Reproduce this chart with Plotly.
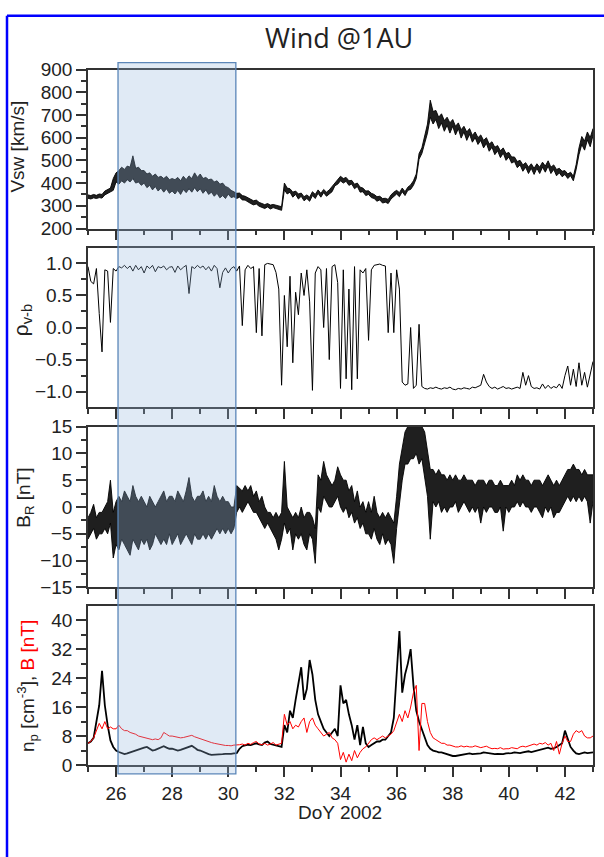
import numpy as np
import plotly.graph_objects as go

# ---------------- data (0.1-day sampling) ----------------
doy = np.round(np.arange(25.0, 43.0001, 0.1), 1)

# solar wind speed: lower / upper edge of the noisy trace [km/s]
vsw_hi = [
    348, 345, 350, 346, 352, 350, 365, 372, 378, 420,
    445, 455, 470, 460, 475, 470, 520, 465, 470, 455,
    455, 440, 445, 430, 440, 425, 430, 420, 430, 415,
    420, 415, 425, 410, 430, 415, 432, 420, 445, 425,
    440, 420, 425, 415, 418, 405, 410, 395, 400, 385,
    380, 368, 362, 355, 356, 345, 342, 335, 328, 322,
    325, 315, 310, 305, 310, 303, 306, 302, 298, 296,
    400, 378, 375, 360, 365, 352, 356, 340, 348, 338,
    362, 350, 370, 355, 372, 360, 370, 385, 405, 415,
    430, 420, 425, 410, 412, 395, 400, 382, 378, 365,
    366, 355, 350, 340, 342, 332, 333, 328, 348, 360,
    368, 358, 378, 362, 382, 392, 410, 440, 530, 555,
    605, 660, 765, 715, 720, 690, 705, 675, 690, 665,
    680, 650, 665, 635, 650, 625, 640, 610, 625, 600,
    612, 588, 600, 572, 582, 558, 565, 542, 555, 530,
    535, 515, 515, 495, 500, 480, 490, 470, 485, 465,
    485, 470, 492, 475, 498, 470, 480, 460, 465, 452,
    455, 440, 448, 430, 482, 555, 605, 585, 625, 600,
    640,
]
vsw_lo = [
    333, 330, 335, 332, 336, 334, 348, 355, 360, 368,
    405, 395, 410, 400, 415, 405, 420, 400, 405, 390,
    400, 380, 390, 370, 385, 365, 378, 360, 375, 355,
    365, 352, 368, 350, 372, 358, 375, 360, 380, 362,
    375, 355, 370, 350, 360, 342, 355, 335, 345, 332,
    352, 336, 340, 332, 338, 326, 325, 316, 310, 304,
    308, 298, 294, 288, 295, 286, 292, 288, 283, 280,
    370, 352, 360, 338, 350, 330, 342, 322, 332, 320,
    345, 332, 355, 338, 358, 342, 352, 362, 388, 395,
    410, 400, 408, 390, 396, 375, 385, 360, 362, 345,
    350, 336, 332, 320, 326, 312, 316, 310, 330, 342,
    352, 340, 362, 345, 368, 372, 390, 420, 505, 530,
    575, 620, 690, 660, 680, 640, 665, 628, 655, 620,
    650, 612, 640, 598, 625, 588, 615, 580, 600, 570,
    588, 555, 575, 540, 558, 525, 542, 512, 532, 500,
    515, 488, 495, 468, 480, 452, 470, 442, 465, 438,
    465, 442, 470, 448, 475, 442, 460, 432, 445, 428,
    438, 420, 432, 410, 460, 525, 570, 545, 590, 560,
    610,
]

rho = [
    0.95, 0.72, 0.68, 0.92, 0.22, -0.38, 0.90, 0.88, 0.08, 0.92,
    0.88, 0.95, 0.93, 0.97, 0.92, 0.96, 0.88, 0.97, 0.90, 0.95,
    0.85, 0.96, 0.92, 0.97, 0.87, 0.95, 0.93, 0.96, 0.90, 0.94,
    0.95, 0.86, 0.96, 0.90, 0.94, 0.97, 0.53, 0.95, 0.92, 0.97,
    0.93, 0.96, 0.90, 0.95, 0.88, 0.97, 0.92, 0.62, 0.86, 0.93,
    0.85, 0.92, 0.95, 0.88, 0.96, 0.03, 0.90, 0.97, 0.92, 0.95,
    -0.08, 0.92, -0.13, 0.98, 1.00, 0.99, 0.98, 0.86, 0.60, -0.90,
    0.50, -0.30, 0.80, -0.55, 0.55, 0.20, 0.85, 0.50, 0.90, 0.40,
    -0.98, 0.85, 0.95, 0.90, 0.00, 0.92, -0.50, 0.95, 0.98, 0.70,
    -0.95, 0.90, -0.80, 0.60, -0.97, 0.95, -0.80, 0.90, 0.85, 0.92,
    -0.20, 0.90, 0.97, 0.98, 0.99, 0.97, 0.96, -0.08, 0.85, -0.08,
    0.90, 0.60, -0.85, -0.90, -0.88, 0.00, -0.95, -0.90, 0.05, -0.92,
    -0.95, -0.96, -0.94, -0.95, -0.93, -0.95, -0.96, -0.94, -0.95, -0.93,
    -0.96, -0.97, -0.95, -0.96, -0.94, -0.95, -0.96, -0.93, -0.94, -0.92,
    -0.90, -0.73, -0.85, -0.92, -0.95, -0.93, -0.96, -0.94, -0.92, -0.95,
    -0.94, -0.96, -0.95, -0.93, -0.95, -0.70, -0.90, -0.75, -0.92, -0.95,
    -0.94, -0.96, -0.88, -0.95, -0.90, -0.95, -0.92, -0.94, -0.88, -0.95,
    -0.75, -0.60, -0.90, -0.65, -0.92, -0.55, -0.90, -0.70, -0.93, -0.75,
    -0.53,
]

# radial magnetic field: lower / upper edge of the noisy trace [nT]
br_hi = [
    -2, -1, 0.5, -2, -1, -1, 0, 1, 5, -1,
    1, 2, 1, 3, 2, 1, 4, 2, 1, 2,
    1, 0, 2, 1, 0, 1, 2, 3, 1, 2,
    2, 1, 3, 2, 1, 3, 5.5, 2, 1, 2,
    2, 3, 1, 2, 1, 4, 2, 1, 2, 1,
    1, 0, 0, 4, 3.5, 3, 4, 3, 4, 2,
    3, 1, 2, 0, -1, -1, -2, -1, -2, -1,
    8.5, 0, -1, -2, -1, -2, 0, -2, -1, -1,
    -2, -4, 6, 5, 8.5, 6, 5, 4, 5, 7.5,
    6, 5, 5, 3, 4, 1, 3, 0, 1, -1,
    1, -1, 2, -1, -2, -1, -2, -1, -2, -3,
    2, 8, 11, 14, 15, 15, 15, 15, 15, 15,
    14, 10, 7, 7, 6, 7, 6, 6, 5, 6,
    5, 6, 5, 5, 6, 5, 5, 5, 4, 5,
    5, 5, 4, 5, 5, 4, 4, 5, 4, 4,
    4, 5, 4, 6, 5, 6, 5, 5, 4, 5,
    5, 5, 4, 5, 6, 5, 4, 5, 4, 5,
    6, 7, 7, 8, 7, 7, 6, 7, 6, 6,
    6,
]
br_lo = [
    -6, -5, -4, -6, -5, -5, -4, -5, -3, -9.5,
    -7, -8, -6, -7, -8, -9, -6, -7, -8, -6,
    -7, -6, -8, -7, -5, -6, -7, -6, -7, -5,
    -7, -6, -5, -7, -6, -5, -6, -7, -5, -6,
    -6, -5, -6, -5, -6, -5, -4, -5, -4, -5,
    -4, -5, -4, -1, 0, -1, 0, 1, 0, -1,
    -1, -2, -3, -4, -3, -4, -5, -6, -8, -6,
    -3, -5, -4, -8, -5, -6, -5, -7, -8, -5,
    -6, -10.5, 0, -1, 2, 1, 0, 0, 1, 2,
    0, -1, 0, -2, -1, -3, -2, -4, -3, -5,
    -5, -6, -4, -6, -7, -5, -7, -6, -7, -10.5,
    -4, 1, 5, 8, 8, 9, 9, 10, 8, 9,
    5, 2, -6, 1, 0, 1, -1, 0, -1, 0,
    0, 1, -1, 0, 1, 0, -1, 0, -1, 0,
    -3, 0, -1, 0, 0, -1, -1, 0, -4.5, 0,
    -1, 0, 0, 1, 0, 1, 0, 0, -1, 0,
    0, -1, -2, 0, -1, 0, -2, -1, -1, 0,
    1, 2, 1, 2, 1, 2, 1, 2, 1, -3,
    1,
]

n_p = [
    6.0, 6.5, 7.5, 12, 16.5, 26, 16.5, 11, 6.8, 5.0,
    4.0, 3.6, 3.2, 3.0, 3.2, 3.5, 3.8, 4.0, 4.3, 4.5,
    4.8, 5.0, 4.5, 4.0, 4.2, 4.5, 4.8, 5.2, 4.8, 4.5,
    4.5, 4.3, 4.0, 4.2, 4.5, 4.8, 5.0, 5.3, 4.8, 4.2,
    4.0, 3.6, 3.2, 3.0, 2.8, 2.8, 2.9, 3.0, 3.0, 3.1,
    3.0, 3.1, 3.2, 3.3, 4.5, 5.2, 5.4, 5.6, 5.5, 5.8,
    6.0, 5.7, 5.5, 6.2, 6.5, 5.8, 5.6, 5.5, 5.2, 5.0,
    11, 9, 15, 13, 18, 22, 27, 18, 21, 29,
    25, 18, 14, 12, 10, 9, 8, 9, 10, 8,
    22, 17, 18, 14, 11, 7, 11, 5.5, 10.5, 6,
    5.0, 5.5, 6.0, 6.5, 6.5, 7.0, 7.0, 8.0, 9, 13,
    24, 37, 20, 25, 28, 32, 22, 15, 12, 10,
    8, 5.5, 4.5, 4.0, 3.8, 3.5, 3.5, 3.2, 3.0, 2.8,
    2.5, 2.5, 2.6, 2.8, 3.0, 3.0, 3.2, 3.0, 3.0, 3.1,
    3.2, 3.5, 3.4, 3.2, 3.0, 3.0, 3.1, 3.0, 3.0, 3.2,
    3.2, 3.3, 3.5, 3.4, 3.3, 3.5, 3.6, 3.8, 3.6, 3.8,
    4.0, 4.2, 4.5, 4.6, 4.8, 4.5, 4.6, 5.0, 5.5, 6.0,
    9.5, 7.0, 5.0, 4.0, 3.2, 3.0, 3.2, 3.5, 3.3, 3.4,
    3.5,
]

b_mag = [
    6.0, 6.5, 7.5, 9.5, 11.5, 10, 12, 10, 10.5, 10,
    10, 11, 10, 9.5, 9.5, 9.0, 8.8, 8.5, 8.0, 7.8,
    7.5, 7.3, 7.0, 7.0, 7.2, 7.0, 7.5, 9.0, 8.5, 8.0,
    8.0, 7.8, 7.6, 7.5, 7.6, 7.8, 8.0, 8.2, 7.8, 7.5,
    7.3, 7.0, 6.8, 6.5, 6.2, 6.0, 5.8, 5.6, 5.5, 5.4,
    5.4, 5.3, 5.5, 5.5, 5.6, 5.8, 5.5, 6.0, 5.7, 6.2,
    6.5, 5.8, 5.6, 6.0, 5.5, 5.8, 6.2, 5.5, 5.8, 6.0,
    14, 11, 12, 10, 11, 10.5, 12, 13, 9, 12,
    13, 11, 10, 9, 8, 8.5, 9, 7.5, 7, 6,
    1.5, 3.5, 0.8, 3.0, 1.2, 4.0, 2.0, 3.5, 4.5, 5.0,
    6.0, 7.0, 7.5, 7.0, 7.5, 8.0, 7.5, 8.0, 8.5, 9.5,
    12, 14, 12, 15, 13, 16, 20, 22, 4, 17,
    17, 12, 9, 7.5, 7, 6.5, 6.0, 6.0, 5.5, 5.5,
    5.2, 5.0, 5.0, 5.3, 5.0, 5.2, 5.0, 5.0, 5.3, 5.0,
    4.8, 5.0, 5.2, 4.8, 4.5, 4.6, 4.5, 4.8, 4.4, 4.5,
    4.5, 4.8, 4.6, 4.5, 5.0, 5.2, 5.0, 5.3, 5.5, 5.8,
    5.5, 6.0, 5.8, 6.2, 5.5, 6.0, 4.0, 6.5, 3.0, 6.0,
    8.0, 6.5, 6.5, 8.5, 9.5, 9.0, 9.5, 8.0, 7.5, 7.5,
    8.0,
]

x_ticks = [26, 28, 30, 32, 34, 36, 38, 40, 42]
shade_start, shade_end = 26.07, 30.27

# ---------------- layout geometry ----------------
W, H = 604, 857
def px(x):
    return x / W
def py(y):
    return (H - y) / H

xdom = [px(88), px(593)]
panels = [  # (top px, bottom px)
    (61, 224),
    (244, 407),
    (427, 592),
    (611, 774),
]
yranges = [[200, 900], [-1.24, 1.24], [-15, 15], [0, 43.9]]
ymajor = [100, 0.5, 5, 8]
yminor = [50, 0.25, 2.5, 4]
ytick0 = [200, -1.0, -15, 0]

FONT = "Liberation Sans, Arial, sans-serif"
AXC = "#333333"
TXT = "#222222"

fig = go.Figure()

def ax(k):
    return ("x" if k == 1 else f"x{k}", "y" if k == 1 else f"y{k}")

def add_band(lo, hi, k):
    xa, ya = ax(k)
    fig.add_trace(go.Scatter(x=doy, y=lo, mode="lines",
                             line=dict(color="black", width=0.9),
                             xaxis=xa, yaxis=ya, showlegend=False, hoverinfo="skip"))
    fig.add_trace(go.Scatter(x=doy, y=hi, mode="lines",
                             line=dict(color="black", width=0.9),
                             fill="tonexty", fillcolor="rgba(0,0,0,0.88)",
                             xaxis=xa, yaxis=ya, showlegend=False, hoverinfo="skip"))

def add_line(ys, col, w, k):
    xa, ya = ax(k)
    fig.add_trace(go.Scatter(x=doy, y=ys, mode="lines",
                             line=dict(color=col, width=w),
                             xaxis=xa, yaxis=ya, showlegend=False, hoverinfo="skip"))

add_band(vsw_lo, vsw_hi, 1)
add_line(rho, "black", 1.0, 2)
add_band(br_lo, br_hi, 3)
add_line(n_p, "black", 1.8, 4)
add_line(b_mag, "red", 1.0, 4)

layout = dict(
    width=W, height=H,
    margin=dict(l=0, r=0, t=0, b=0),
    paper_bgcolor="white", plot_bgcolor="white",
    showlegend=False,
    font=dict(family=FONT, size=19, color=TXT),
)

for i, (top, bot) in enumerate(panels):
    k = i + 1
    xa, ya = ax(k)
    xname = "xaxis" if k == 1 else f"xaxis{k}"
    yname = "yaxis" if k == 1 else f"yaxis{k}"
    layout[xname] = dict(
        domain=xdom, anchor=ya, range=[25, 43],
        tickmode="array", tickvals=x_ticks,
        ticks="outside", ticklen=10, tickwidth=1.5, tickcolor=AXC,
        showticklabels=(k == 4),
        tickfont=dict(family=FONT, size=19, color=TXT),
        minor=dict(dtick=1, tick0=25, ticks="outside", ticklen=5,
                   tickwidth=1.5, tickcolor=AXC, showgrid=False),
        showline=True, linecolor=AXC, linewidth=1.5, mirror=True,
        showgrid=False, zeroline=False, fixedrange=True,
    )
    if k != 1:
        layout[xname]["matches"] = "x"
    layout[yname] = dict(
        domain=[py(bot), py(top)], anchor=xa, range=yranges[i],
        tickmode="linear", tick0=ytick0[i], dtick=ymajor[i],
        ticks="outside", ticklen=10, tickwidth=1.5, tickcolor=AXC,
        tickfont=dict(family=FONT, size=19, color=TXT),
        minor=dict(dtick=yminor[i], ticks="outside", ticklen=5,
                   tickwidth=1.5, tickcolor=AXC, showgrid=False),
        showline=True, linecolor=AXC, linewidth=1.5, mirror=True,
        showgrid=False, zeroline=False, fixedrange=True,
    )
layout["yaxis2"]["tickformat"] = ".1f"

fig.update_layout(**layout)

ann = [
    dict(text="Wind @1AU", x=px(339), y=py(28), font=dict(family="Open Sans, sans-serif", size=27, color=TXT)),
    dict(text="DoY 2002", x=px(340), y=py(823), font=dict(family=FONT, size=19, color=TXT)),
    dict(text="Vsw [km/s]", x=px(18), y=py(140), textangle=-90, font=dict(family=FONT, size=19, color=TXT)),
    dict(text="ρ<sub>v-b</sub>", x=px(22), y=py(318), textangle=-90, font=dict(family=FONT, size=21, color=TXT)),
    dict(text="B<sub>R</sub> [nT]", x=px(25), y=py(500), textangle=-90, font=dict(family=FONT, size=19, color=TXT)),
    dict(text="n<sub>p</sub> [cm<sup>-3</sup>], <span style='color:red'>B [nT]</span>",
         x=px(27), y=py(693), textangle=-90, font=dict(family=FONT, size=19, color=TXT)),
]
for a in ann:
    fig.add_annotation(xref="paper", yref="paper", showarrow=False,
                       xanchor="center", yanchor="middle", **a)

# highlighted interval spanning all panels
fig.add_shape(type="rect", xref="x", yref="paper",
              x0=shade_start, x1=shade_end, y0=py(783), y1=py(54),
              fillcolor="rgba(147,182,220,0.29)",
              line=dict(color="#5b86b8", width=1.3), layer="above")

# blue frame (top and left edges visible)
fig.add_shape(type="line", xref="paper", yref="paper",
              x0=px(7), x1=1.05, y0=py(6), y1=py(6),
              line=dict(color="#0000ff", width=2.5))
fig.add_shape(type="line", xref="paper", yref="paper",
              x0=px(7), x1=px(7), y0=py(6), y1=-0.05,
              line=dict(color="#0000ff", width=2.5))

fig.write_html("out.html")
